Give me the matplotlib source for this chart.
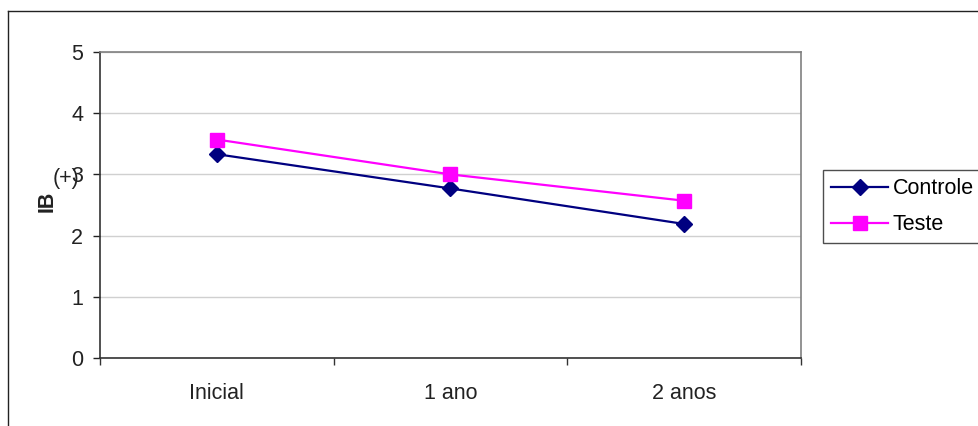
import matplotlib.pyplot as plt
from matplotlib.lines import Line2D

plt.rcParams["font.family"] = ["Liberation Sans", "DejaVu Sans"]

# data
periodos = ["Inicial", "1 ano", "2 anos"]
controle = [3.33, 2.77, 2.19]
teste = [3.57, 3.00, 2.57]
y_ticks = [0, 1, 2, 3, 4, 5]

W, H = 979, 426
fs = 15.5
fig = plt.figure(figsize=(W / 100, H / 100), dpi=100)

# outer chart frame (runs past the right and bottom edges)
fig.add_artist(Line2D([8 / W, 8 / W], [0, 1 - 11 / H], transform=fig.transFigure,
                      color="#222222", lw=1.0))
fig.add_artist(Line2D([8 / W, 1], [1 - 11 / H, 1 - 11 / H], transform=fig.transFigure,
                      color="#222222", lw=1.0))

ax = fig.add_axes([100 / W, (H - 358) / H, 701 / W, 306 / H])
x = list(range(len(periodos)))

ax.plot(x, controle, color="#000080", lw=1.6, marker="D", markersize=8.5,
        markerfacecolor="#000080", markeredgecolor="#000080", label="Controle", zorder=3)
ax.plot(x, teste, color="#FF00FF", lw=1.6, marker="s", markersize=10,
        markerfacecolor="#FF00FF", markeredgecolor="#FF00FF", label="Teste", zorder=3)

ax.set_xlim(-0.5, len(periodos) - 0.5)
ax.set_ylim(0, 5)
ax.set_yticks(y_ticks)
ax.set_yticklabels([str(v) for v in y_ticks])
ax.set_xticks(x)
ax.set_xticklabels(periodos)
ax.set_xticks([i - 0.5 for i in range(len(periodos) + 1)], minor=True)
ax.tick_params(axis="x", which="major", length=0, pad=18, labelsize=fs, colors="#222222")
ax.tick_params(axis="x", which="minor", length=5, width=1, direction="out", color="#333333")
ax.tick_params(axis="y", length=5, width=1, direction="out", pad=7,
               labelsize=fs, colors="#222222")

ax.grid(axis="y", color="#d0d0d0", lw=1.0)
ax.set_axisbelow(True)
for side in ["top", "right"]:
    ax.spines[side].set_color("#808080")
    ax.spines[side].set_linewidth(1.2)
for side in ["left", "bottom"]:
    ax.spines[side].set_color("#333333")
    ax.spines[side].set_linewidth(1.2)

# y axis title
fig.text(47 / W, 1 - 201 / H, "IB", rotation=90, fontsize=fs, fontweight="bold",
         ha="center", va="center", color="#222222")
fig.text(66 / W, 1 - 179 / H, "(+)", fontsize=fs, ha="center", va="center", color="#222222")

leg = ax.legend(loc="upper left", bbox_to_anchor=(823 / W, 1 - 170 / H),
                bbox_transform=fig.transFigure, fontsize=fs, frameon=True, fancybox=False,
                borderpad=0.38, labelspacing=0.7, handlelength=2.65, handletextpad=0.2,
                borderaxespad=0)
leg.get_frame().set_edgecolor("#222222")
leg.get_frame().set_linewidth(1.0)

fig.savefig("out.png", dpi=100)
